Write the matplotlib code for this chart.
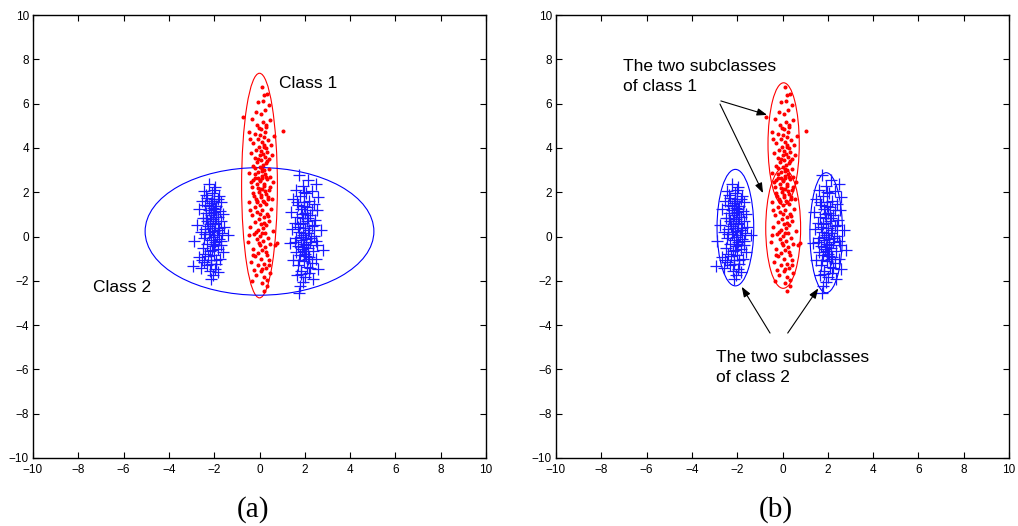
import numpy as np
import matplotlib
matplotlib.use('Agg')
import matplotlib.pyplot as plt
from matplotlib.patches import Ellipse

# -> Sample points (same points in both panels)

red_up_x = [0.12, 0.32, 0.18, -0.05, 0.41, -0.71, 0.25, 0.08, -0.32, 0.46,
            0.15, -0.12, 0.30, 1.02, -0.45, 0.05, -0.20, 0.62, 0.22, -0.08,
            0.38, 0.10, -0.30, 0.18, 0.52, -0.02, 0.28, -0.15, 0.08, 0.35,
            -0.38, 0.14, 0.00, 0.24, -0.22, 0.44, 0.06, -0.10, 0.30, 0.16,
            -0.28, 0.02, 0.40, 0.20, -0.05, -0.48, 0.26, 0.10, -0.18, 0.34,
            0.04, 0.58, -0.12, 0.22, -0.35, 0.12, 0.42, -0.02, 0.28, -0.25,
            0.08, 0.36, -0.10, 0.18, 0.02, 0.20, -0.06, 0.12, 0.30, -0.15,
            0.55, -0.40, 0.09, 0.26, -0.20, 0.15, 0.48, -0.03, 0.33, -0.30]
red_up_y = [6.76, 6.42, 6.38, 6.05, 5.95, 5.41, 5.72, 5.55, 5.30, 5.28,
            5.18, 5.02, 4.95, 4.78, 4.70, 4.85, 4.62, 4.55, 4.50, 4.42,
            4.35, 4.28, 4.20, 4.15, 4.12, 4.05, 3.98, 3.92, 3.88, 3.82,
            3.78, 3.72, 3.66, 3.60, 3.55, 3.50, 3.45, 3.38, 3.32, 3.25,
            3.20, 3.12, 3.05, 2.98, 2.92, 2.85, 2.80, 2.72, 2.65, 2.58,
            2.50, 2.45, 2.38, 2.30, 2.22, 2.15, 2.08, 2.00, 1.92, 1.85,
            1.78, 1.70, 1.62, 1.55, 4.58, 4.02, 3.52, 3.05, 5.05, 5.60,
            3.70, 4.40, 2.62, 4.72, 3.10, 6.12, 2.70, 4.90, 3.40, 2.55]

red_lo_x = [0.10, -0.20, 0.30, 0.02, -0.38, 0.18, 0.45, -0.08, 0.25, -0.30,
            0.05, 0.38, -0.15, 0.15, -0.45, 0.28, 0.00, -0.22, 0.52, 0.10,
            -0.10, 0.34, -0.35, 0.20, -0.02, 0.42, -0.18, 0.08, 0.30, -0.40,
            0.14, -0.06, 0.60, 0.24, -0.25, 0.04, 0.36, -0.12, 0.16, -0.50,
            0.48, 0.00, 0.26, -0.30, 0.12, 0.70, 0.78, -0.05, 0.32, -0.20,
            0.08, 0.40, -0.38, 0.18, -0.08, 0.28, -0.25, 0.06, 0.46, -0.15,
            0.20, -0.32, 0.10, 0.35, 0.22, -0.42, 0.12, -0.10, 0.32, 0.04,
            -0.28, 0.22, -0.02, 0.55, -0.16, 0.10, 0.38, -0.48, 0.00, 0.28,
            -0.05, 0.44]
red_lo_y = [2.95, 2.80, 2.70, 2.55, 2.45, 2.35, 2.25, 2.18, 2.05, 1.95,
            1.88, 1.80, 1.70, 1.62, 1.55, 1.48, 1.40, 1.32, 1.25, 1.18,
            1.10, 1.02, 0.95, 0.88, 0.80, 0.72, 0.65, 0.58, 0.50, 0.45,
            0.38, 0.30, 0.25, 0.18, 0.10, 0.02, -0.05, -0.12, -0.20, -0.25,
            -0.32, -0.40, -0.48, -0.55, -0.62, -0.40, -0.30, -0.75, -0.82, -0.90,
            -1.00, -1.08, -1.15, -1.22, -1.30, -1.40, -1.50, -1.58, -1.65, -1.75,
            -1.85, -2.00, -2.10, -2.25, -2.45, 1.20, 0.15, 1.55, -1.95, 2.15,
            -0.85, 0.62, -0.28, 1.68, 0.22, -1.48, 0.92, 0.05, 1.00, -0.70,
            2.62, -1.30]

blue_l_x = [-2.25, -1.95, -2.45, -2.10, -1.80, -2.30, -2.00, -2.55, -1.70, -2.15,
            -2.40, -1.90, -2.05, -2.65, -2.25, -1.75, -2.00, -2.35, -1.60, -2.15,
            -1.85, -2.50, -2.05, -2.30, -1.70, -1.95, -2.20, -2.75, -1.55, -2.10,
            -2.40, -1.85, -2.00, -2.60, -1.65, -2.25, -1.40, -2.05, -2.45, -1.80,
            -2.15, -2.90, -1.95, -2.30, -1.70, -2.05, -2.50, -1.85, -2.20, -1.60,
            -2.40, -2.00, -2.65, -1.75, -2.15, -2.45, -1.90, -2.30, -2.92, -2.60,
            -1.95, -2.20, -1.85, -2.05, -2.15, -1.92, -2.08, -2.18, -1.98, -2.28,
            -1.88, -2.12, -2.02, -2.35, -1.78, -2.22, -2.08, -1.96, -2.42, -2.12,
            -1.82, -2.28, -2.03, -2.52, -1.72, -2.17, -1.94, -2.38]
blue_l_y = [2.35, 2.25, 2.05, 1.95, 1.85, 1.75, 1.70, 1.60, 1.55, 1.50,
            1.42, 1.38, 1.30, 1.25, 1.20, 1.15, 1.10, 1.05, 1.00, 0.95,
            0.90, 0.85, 0.80, 0.72, 0.68, 0.62, 0.55, 0.50, 0.45, 0.40,
            0.35, 0.30, 0.25, 0.20, 0.15, 0.10, 0.05, 0.00, -0.05, -0.10,
            -0.15, -0.20, -0.25, -0.32, -0.38, -0.45, -0.50, -0.58, -0.65, -0.70,
            -0.78, -0.85, -0.92, -1.00, -1.08, -1.15, -1.22, -1.30, -1.33, -1.40,
            -1.48, -1.55, -1.62, -1.75, -1.90, 0.88, 1.62, 0.22, 1.25, 0.48,
            0.05, 1.05, -0.32, 0.82, 0.40, 1.38, -0.62, 0.58, 0.12, -1.25,
            1.68, -0.90, 2.10, -1.05, -0.22, 0.70, -1.05, 1.88]

blue_r_x = [1.75, 2.15, 2.50, 1.90, 1.60, 2.30, 2.05, 1.80, 2.60, 1.50,
            2.20, 1.95, 2.40, 1.70, 2.10, 1.85, 2.55, 1.40, 2.00, 2.25,
            1.65, 1.90, 2.45, 2.10, 1.55, 1.80, 2.30, 2.00, 1.45, 2.70,
            1.75, 2.15, 1.92, 2.40, 1.60, 2.05, 1.85, 2.25, 1.35, 1.98,
            2.55, 1.70, 2.12, 1.88, 2.80, 2.35, 1.62, 2.02, 1.80, 2.20,
            2.50, 1.50, 1.95, 2.30, 1.72, 2.08, 2.60, 1.85, 2.20, 1.65,
            2.00, 1.90, 1.78, 1.76, 2.38, 1.92, 2.05, 1.82, 2.18, 1.98,
            1.68, 2.28, 1.88, 2.12, 1.58, 2.42, 1.95, 2.02, 1.74, 2.32,
            1.90, 2.15, 1.84, 2.48, 1.64, 2.06, 1.96, 2.24]
blue_r_y = [2.78, 2.55, 2.35, 2.30, 2.12, 2.05, 1.95, 1.85, 1.78, 1.70,
            1.62, 1.55, 1.45, 1.40, 1.32, 1.25, 1.18, 1.10, 1.05, 0.98,
            0.90, 0.82, 0.75, 0.68, 0.60, 0.55, 0.48, 0.40, 0.32, 0.28,
            0.22, 0.15, 0.08, 0.02, -0.05, -0.12, -0.18, -0.25, -0.30, -0.35,
            -0.40, -0.45, -0.52, -0.58, -0.60, -0.65, -0.72, -0.78, -0.85, -0.92,
            -1.00, -1.05, -1.12, -1.20, -1.30, -1.38, -1.45, -1.55, -1.65, -1.75,
            -1.85, -2.05, -2.25, -2.55, -1.90, 0.62, -0.38, 0.00, 0.30, -0.65,
            0.45, -0.08, 1.02, -1.00, -0.25, 0.52, 1.38, 0.18, -1.05, 1.20,
            -0.48, 0.85, -1.68, -0.22, 1.58, -0.90, 2.02, -1.42]

red_x = red_up_x + red_lo_x
red_y = red_up_y + red_lo_y
blue_x = blue_l_x + blue_r_x
blue_y = blue_l_y + blue_r_y

# -> Fitted ellipses: (center x, center y, width, height, colour)
ell_a = [(0.0, 2.30, 1.58, 10.14, 'r'),
         (0.0, 0.23, 10.10, 5.76, 'b')]
ell_b = [(0.05, 4.18, 1.38, 5.52, 'r'),
         (0.03, 0.37, 1.54, 5.42, 'r'),
         (-2.08, 0.40, 1.62, 5.26, 'b'),
         (1.93, 0.17, 1.44, 5.42, 'b')]

ticks = list(range(-10, 11, 2))

plt.rcParams['font.family'] = ['Liberation Sans', 'DejaVu Sans']

fig = plt.figure(figsize=(10.18, 5.26), dpi=100)
ax_a = fig.add_axes([33 / 1018, 68 / 526, 453 / 1018, 443 / 526])
ax_b = fig.add_axes([556 / 1018, 68 / 526, 453 / 1018, 443 / 526])


def setup(ax, ellipses):
    ax.plot(blue_x, blue_y, '+', color='#1a1aff', markersize=8, markeredgewidth=0.9)
    ax.plot(red_x, red_y, '.', color='r', markersize=3.8)
    for cx, cy, w, h, c in ellipses:
        ax.add_patch(Ellipse((cx, cy), w, h, fill=False, edgecolor=c, lw=0.8))
    ax.set_xlim(-10, 10)
    ax.set_ylim(-10, 10)
    ax.set_xticks(ticks)
    ax.set_yticks(ticks)
    ax.tick_params(direction='in', top=True, right=True, length=4, width=0.8,
                   labelsize=8.5)
    ax.tick_params(axis='x', pad=4)
    ax.tick_params(axis='y', pad=3)
    for s in ax.spines.values():
        s.set_linewidth(1.0)


setup(ax_a, ell_a)
setup(ax_b, ell_b)

# -> Labels, panel (a)
ax_a.text(0.86, 6.71, 'Class 1', fontsize=12.5, va='baseline')
ax_a.text(-7.34, -2.52, 'Class 2', fontsize=12.5, va='baseline')

# -> Labels and arrows, panel (b)
ax_b.text(-7.06, 7.49, 'The two subclasses', fontsize=12.5, va='baseline')
ax_b.text(-7.06, 6.58, 'of class 1', fontsize=12.5, va='baseline')
ax_b.text(-2.94, -5.65, 'The two subclasses', fontsize=12.5, va='baseline')
ax_b.text(-2.94, -6.56, 'of class 2', fontsize=12.5, va='baseline')

arrow = dict(arrowstyle='-|>,head_length=0.6,head_width=0.22', color='k',
             lw=0.8, shrinkA=0, shrinkB=0)
for start, end in [((-2.72, 6.12), (-0.68, 5.49)),
                   ((-2.76, 5.98), (-0.86, 1.96)),
                   ((-0.55, -4.36), (-1.80, -2.27)),
                   ((0.23, -4.36), (1.58, -2.34))]:
    ax_b.annotate('', xy=end, xytext=start, arrowprops=arrow)

fig.text(253 / 1018, 9 / 526, '(a)', fontsize=21, ha='center', va='baseline',
         family='Liberation Serif')
fig.text(776 / 1018, 9 / 526, '(b)', fontsize=21, ha='center', va='baseline',
         family='Liberation Serif')

fig.savefig('out.png', dpi=100)
